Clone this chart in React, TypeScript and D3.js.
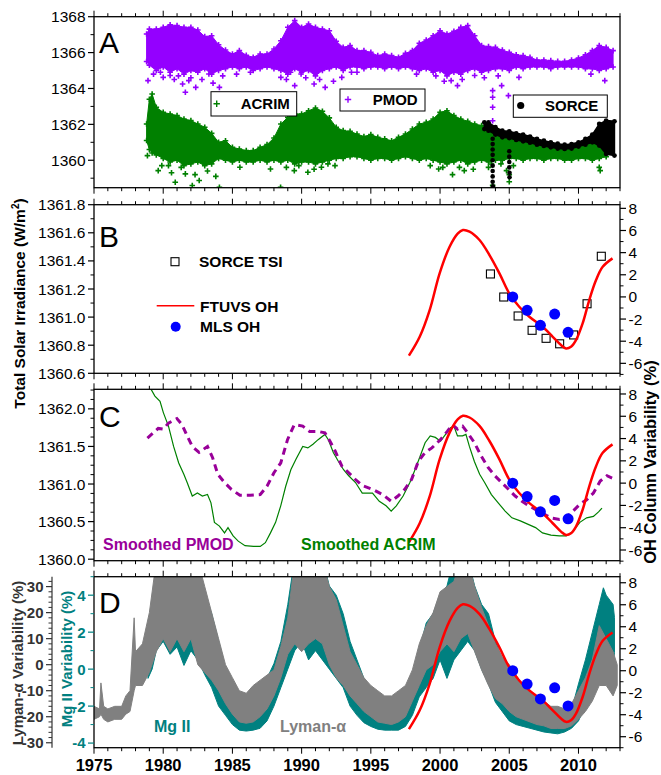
import React from 'react';
import * as d3 from 'd3';

// ---------- data ----------
// Panel A: daily TSI clouds, stored as [year, lower edge, upper edge]
const pmodBand = [
  [1978.8, 1365.5, 1367.04], [1979.0, 1365.3, 1367.31], [1979.5, 1365.0, 1367.31], [1980.0, 1365.2, 1367.41],
  [1980.5, 1364.9, 1367.55], [1981.0, 1365.1, 1367.5], [1981.5, 1364.8, 1367.41], [1982.0, 1365.0, 1367.41],
  [1982.5, 1364.9, 1367.26], [1983.0, 1365.1, 1366.89], [1983.5, 1364.8, 1366.94], [1984.0, 1365.0, 1366.44],
  [1984.5, 1365.1, 1366.14], [1985.0, 1365.2, 1365.92], [1985.5, 1365.1, 1366.11], [1986.0, 1365.2, 1365.85],
  [1986.5, 1365.0, 1365.74], [1987.0, 1365.1, 1365.92], [1987.5, 1365.2, 1365.92], [1988.0, 1365.1, 1366.2],
  [1988.5, 1365.0, 1366.66], [1989.0, 1364.8, 1367.41], [1989.5, 1365.1, 1367.78], [1990.0, 1364.9, 1367.41],
  [1990.5, 1365.0, 1367.59], [1991.0, 1364.7, 1367.41], [1991.5, 1365.0, 1367.31], [1992.0, 1365.1, 1367.22],
  [1992.5, 1365.2, 1366.63], [1993.0, 1365.0, 1366.29], [1993.5, 1365.2, 1366.39], [1994.0, 1365.2, 1366.11],
  [1994.5, 1365.1, 1366.11], [1995.0, 1365.2, 1366.01], [1995.5, 1365.2, 1365.83], [1996.0, 1365.1, 1365.92],
  [1996.5, 1365.2, 1365.83], [1997.0, 1365.1, 1365.74], [1997.5, 1365.2, 1365.96], [1998.0, 1365.1, 1366.11],
  [1998.5, 1365.0, 1366.52], [1999.0, 1365.1, 1366.7], [1999.5, 1364.9, 1366.94], [2000.0, 1365.0, 1367.22],
  [2000.5, 1364.7, 1367.04], [2001.0, 1364.9, 1367.18], [2001.5, 1364.8, 1367.41], [2002.0, 1365.0, 1367.5],
  [2002.5, 1365.1, 1366.94], [2003.0, 1364.9, 1366.39], [2003.5, 1365.0, 1366.33], [2004.0, 1365.1, 1366.29],
  [2004.5, 1365.1, 1366.14], [2005.0, 1365.0, 1366.01], [2005.5, 1365.2, 1365.88], [2006.0, 1365.1, 1365.83],
  [2006.5, 1365.2, 1365.74], [2007.0, 1365.2, 1365.59], [2007.5, 1365.2, 1365.59], [2008.0, 1365.1, 1365.55],
  [2008.5, 1365.2, 1365.51], [2009.0, 1365.2, 1365.51], [2009.5, 1365.2, 1365.59], [2010.0, 1365.2, 1365.7],
  [2010.5, 1365.1, 1365.88], [2011.0, 1365.1, 1366.11], [2011.5, 1365.0, 1366.39], [2012.0, 1365.1, 1366.29],
  [2012.5, 1365.2, 1366.11],
];
const pmodDips = [
  [1978.9, 1364.44], [1979.3, 1364.8], [1979.8, 1364.9], [1980.0, 1364.62], [1980.5, 1364.72], [1980.8, 1364.5],
  [1981.1, 1364.7], [1981.4, 1364.25], [1981.6, 1363.79], [1981.85, 1364.44], [1982.0, 1364.6], [1982.35, 1364.06],
  [1982.8, 1364.5], [1983.3, 1364.81], [1983.6, 1364.3], [1984.06, 1364.06], [1984.3, 1364.7], [1985.3, 1364.8],
  [1986.3, 1364.9], [1988.5, 1364.62], [1988.9, 1364.5], [1989.2, 1364.9], [1989.5, 1364.16], [1989.96, 1364.81],
  [1990.3, 1364.6], [1990.9, 1364.25], [1991.3, 1364.5], [1991.7, 1364.06], [1992.3, 1364.4], [1992.9, 1364.62],
  [1993.6, 1364.9], [1994.0, 1364.9], [1998.3, 1364.8], [1999.7, 1364.7], [2000.3, 1364.4], [2000.8, 1364.44],
  [2001.26, 1364.16], [2001.6, 1364.5], [2002.5, 1364.72], [2003.2, 1364.6], [2003.8, 1362.95], [2003.8, 1363.51],
  [2003.8, 1363.88], [2003.8, 1362.2], [2004.2, 1364.7], [2004.45, 1364.16], [2004.94, 1363.6], [2005.7, 1364.62],
  [2010.9, 1364.8], [2011.9, 1364.44],
];
const acrimBand = [
  [1978.8, 1361.1, 1362.02], [1979.0, 1360.6, 1363.4], [1979.2, 1360.4, 1363.69], [1979.5, 1360.3, 1362.95],
  [1980.0, 1360.1, 1362.67], [1980.5, 1359.9, 1362.58], [1981.0, 1360.0, 1362.49], [1981.5, 1359.7, 1362.3],
  [1982.0, 1359.8, 1362.21], [1982.5, 1359.9, 1362.02], [1983.0, 1359.7, 1361.84], [1983.5, 1359.8, 1361.5],
  [1984.0, 1360.1, 1361.0], [1984.5, 1360.0, 1361.09], [1985.0, 1359.9, 1360.72], [1985.5, 1360.0, 1360.63],
  [1986.0, 1359.9, 1360.54], [1986.5, 1359.9, 1360.54], [1987.0, 1360.0, 1360.72], [1987.5, 1359.9, 1360.87],
  [1988.0, 1360.0, 1361.24], [1988.5, 1359.9, 1362.02], [1989.0, 1360.0, 1362.39], [1989.5, 1359.8, 1362.58],
  [1990.0, 1359.9, 1362.58], [1990.5, 1359.9, 1362.76], [1991.0, 1359.8, 1362.91], [1991.5, 1359.9, 1362.73],
  [1992.0, 1360.0, 1362.36], [1992.5, 1360.1, 1361.84], [1993.0, 1360.1, 1361.65], [1993.5, 1360.2, 1361.61],
  [1994.0, 1360.2, 1361.46], [1994.5, 1360.1, 1361.32], [1995.0, 1360.0, 1361.43], [1995.5, 1360.1, 1361.28],
  [1996.0, 1360.1, 1361.19], [1996.5, 1360.0, 1361.09], [1997.0, 1360.1, 1361.28], [1997.5, 1360.2, 1361.46],
  [1998.0, 1360.1, 1361.74], [1998.5, 1360.0, 1362.02], [1999.0, 1360.1, 1362.11], [1999.5, 1360.0, 1362.3],
  [2000.0, 1359.9, 1362.67], [2000.5, 1359.8, 1362.76], [2001.0, 1359.9, 1362.49], [2001.5, 1360.0, 1362.3],
  [2002.0, 1359.8, 1362.17], [2002.5, 1359.9, 1362.02], [2003.0, 1360.0, 1361.93], [2003.5, 1359.9, 1361.84],
  [2004.0, 1360.0, 1361.61], [2004.5, 1360.0, 1361.46], [2005.0, 1360.1, 1361.28], [2005.5, 1360.1, 1361.13],
  [2006.0, 1360.0, 1361.06], [2006.5, 1360.1, 1360.95], [2007.0, 1360.1, 1360.87], [2007.5, 1360.0, 1360.82],
  [2008.0, 1360.1, 1360.76], [2008.5, 1360.1, 1360.72], [2009.0, 1360.0, 1360.72], [2009.5, 1360.0, 1360.72],
  [2010.0, 1360.1, 1360.76], [2010.5, 1360.1, 1360.87], [2011.0, 1360.0, 1361.0], [2011.5, 1360.1, 1361.09],
  [2012.0, 1360.2, 1360.87],
];
const acrimDips = [
  [1978.86, 1360.26], [1979.64, 1359.42], [1979.9, 1359.7], [1980.38, 1359.7], [1980.6, 1359.3], [1980.87, 1358.77],
  [1981.3, 1359.6], [1981.6, 1359.24], [1982.1, 1358.59], [1982.3, 1359.2], [1982.6, 1358.87], [1983.2, 1359.4],
  [1983.8, 1359.1], [1984.06, 1358.49], [1985.54, 1359.61], [1987.75, 1359.51], [1988.48, 1358.49], [1988.9, 1359.6],
  [1989.47, 1359.42], [1989.8, 1359.7], [1990.45, 1359.33], [1990.9, 1359.5], [1991.43, 1359.61], [1991.9, 1359.8],
  [1992.41, 1359.7], [1999.29, 1359.7], [1999.9, 1359.51], [2000.2, 1359.6], [2000.9, 1359.2], [2001.4, 1359.6],
  [2001.75, 1359.42], [2002.4, 1359.5], [2003.5, 1359.6], [2003.71, 1359.79], [2003.8, 1358.6], [2004.4, 1359.8],
  [2004.8, 1359.42], [2005.0, 1358.8], [2005.0, 1359.2], [2005.3, 1359.7], [2011.5, 1359.6], [2011.57, 1359.42],
];
const sorceBand = [
  [2003.2, 1361.74, 1362.11], [2003.5, 1361.65, 1362.11], [2004.0, 1361.43, 1361.84], [2004.5, 1361.28, 1361.65],
  [2005.0, 1361.24, 1361.61], [2005.5, 1361.13, 1361.5], [2006.0, 1361.06, 1361.43], [2006.5, 1360.98, 1361.32],
  [2007.0, 1360.87, 1361.19], [2007.5, 1360.8, 1361.09], [2008.0, 1360.72, 1361.0], [2008.5, 1360.65, 1360.92],
  [2009.0, 1360.63, 1360.87], [2009.5, 1360.65, 1360.9], [2010.0, 1360.76, 1361.0], [2010.5, 1360.87, 1361.19],
  [2011.0, 1361.0, 1361.43], [2011.5, 1360.82, 1362.02], [2012.0, 1360.35, 1362.21], [2012.6, 1360.26, 1362.17],
];
const sorceDips = [
  [2003.8, 1361.2], [2003.8, 1360.9], [2003.8, 1360.6], [2003.8, 1360.3], [2003.8, 1360.0], [2003.8, 1359.7],
  [2003.8, 1359.4], [2003.8, 1359.1], [2003.8, 1358.8], [2003.82, 1358.55], [2005.0, 1360.5], [2005.0, 1360.2],
  [2005.0, 1359.9], [2005.0, 1359.6], [2005.02, 1359.3], [2005.02, 1359.05],
];

// Panel B
const sorceTsi = [
  [2003.64, 1361.307], [2004.6, 1361.143], [2005.64, 1361.008], [2006.65, 1360.906], [2007.66, 1360.849],
  [2008.64, 1360.81], [2009.65, 1360.873], [2010.62, 1361.095], [2011.65, 1361.433],
];
const ftuvsOh = [
  [1997.75, -5.31], [1998.53, -3.6], [1999.25, -1.19], [1999.97, 2.13], [2000.69, 4.53], [2001.29, 5.74],
  [2001.65, 6.04], [2002.13, 5.89], [2002.85, 5.14], [2003.57, 3.78], [2004.29, 2.13], [2005.0, 0.32],
  [2005.72, -0.89], [2006.45, -1.79], [2007.41, -2.7], [2008.14, -3.6], [2008.74, -4.35], [2009.1, -4.65],
  [2009.46, -4.5], [2009.82, -3.9], [2010.3, -2.39], [2010.78, -0.28], [2011.27, 1.52], [2011.75, 2.72],
  [2012.46, 3.48],
];
const mlsOh = [[2005.25, 0.0], [2006.29, -1.21], [2007.25, -2.57], [2008.28, -1.55], [2009.25, -3.2]];

// Panel C
const smoothPmod = [
  [1978.86, 1361.61], [1979.28, 1361.68], [1979.64, 1361.74], [1980.01, 1361.73], [1980.38, 1361.81], [1980.99, 1361.87],
  [1981.36, 1361.79], [1981.73, 1361.64], [1982.1, 1361.5], [1982.59, 1361.42], [1983.2, 1361.5], [1983.57, 1361.35],
  [1983.94, 1361.13], [1984.43, 1361.02], [1984.92, 1360.93], [1985.54, 1360.85], [1986.28, 1360.85], [1987.01, 1360.86],
  [1987.5, 1360.97], [1988.0, 1361.15], [1988.49, 1361.28], [1988.98, 1361.59], [1989.47, 1361.79], [1990.08, 1361.77],
  [1990.57, 1361.7], [1991.19, 1361.7], [1991.68, 1361.68], [1992.05, 1361.57], [1992.42, 1361.44], [1992.9, 1361.24],
  [1993.4, 1361.15], [1993.89, 1361.06], [1994.38, 1360.98], [1995.12, 1360.93], [1995.85, 1360.86], [1996.47, 1360.77],
  [1996.96, 1360.84], [1997.45, 1360.93], [1997.94, 1361.06], [1998.43, 1361.3], [1998.92, 1361.42], [1999.41, 1361.48],
  [2000.03, 1361.59], [2000.52, 1361.7], [2000.89, 1361.79], [2001.26, 1361.73], [2001.63, 1361.77], [2002.0, 1361.68],
  [2002.48, 1361.55], [2002.98, 1361.37], [2003.47, 1361.22], [2003.96, 1361.11], [2004.45, 1361.02], [2004.94, 1360.93],
  [2005.43, 1360.84], [2005.92, 1360.77], [2006.42, 1360.71], [2006.91, 1360.66], [2007.4, 1360.61], [2008.01, 1360.55],
  [2008.63, 1360.53], [2009.12, 1360.55], [2009.61, 1360.64], [2010.1, 1360.73], [2010.59, 1360.79], [2011.08, 1360.88],
  [2011.57, 1361.04], [2012.06, 1361.11], [2012.43, 1361.08],
];
const smoothAcrim = [
  [1979.0, 1362.3], [1979.4, 1362.17], [1979.77, 1362.1], [1980.01, 1361.95], [1980.38, 1361.77], [1980.75, 1361.5],
  [1981.12, 1361.28], [1981.49, 1361.13], [1981.73, 1361.02], [1982.1, 1360.84], [1982.47, 1360.88], [1982.83, 1360.84],
  [1983.2, 1360.86], [1983.45, 1360.75], [1983.7, 1360.49], [1984.06, 1360.44], [1984.43, 1360.35], [1984.68, 1360.42],
  [1985.05, 1360.31], [1985.42, 1360.24], [1985.91, 1360.18], [1986.52, 1360.17], [1987.01, 1360.17], [1987.38, 1360.22],
  [1987.75, 1360.35], [1988.12, 1360.49], [1988.49, 1360.71], [1988.85, 1360.97], [1989.22, 1361.19], [1989.59, 1361.33],
  [1990.08, 1361.5], [1990.45, 1361.48], [1990.82, 1361.53], [1991.19, 1361.59], [1991.68, 1361.66], [1991.93, 1361.59],
  [1992.29, 1361.42], [1992.66, 1361.3], [1993.03, 1361.19], [1993.4, 1361.11], [1993.89, 1361.02], [1994.38, 1360.88],
  [1995.12, 1360.88], [1995.61, 1360.77], [1996.1, 1360.71], [1996.47, 1360.64], [1996.84, 1360.71], [1997.33, 1360.84],
  [1997.82, 1361.02], [1998.19, 1361.19], [1998.56, 1361.37], [1998.92, 1361.55], [1999.29, 1361.64], [1999.66, 1361.62],
  [2000.03, 1361.57], [2000.4, 1361.66], [2000.76, 1361.75], [2001.0, 1361.77], [2001.26, 1361.64], [2001.63, 1361.64],
  [2001.87, 1361.66], [2002.12, 1361.5], [2002.48, 1361.3], [2002.86, 1361.13], [2003.22, 1361.02], [2003.71, 1360.86],
  [2004.2, 1360.75], [2004.7, 1360.64], [2005.19, 1360.55], [2005.8, 1360.51], [2006.41, 1360.46], [2006.9, 1360.42],
  [2007.4, 1360.35], [2008.01, 1360.32], [2008.62, 1360.31], [2009.11, 1360.31], [2009.6, 1360.37], [2010.1, 1360.49],
  [2010.59, 1360.55], [2011.08, 1360.57], [2011.45, 1360.63], [2011.7, 1360.68],
];

// Panel D: noisy daily indices, [year, lower edge, upper edge]
const lymanBand = [
  [1975.0, -21, -16], [1975.4, -20, -17], [1975.5, -19, -7], [1975.7, -21, -16], [1976.0, -22, -17], [1976.5, -21, -16],
  [1977.0, -21, -16], [1977.3, -19, -12], [1977.6, -18, -10], [1977.9, -10, 18], [1978.0, -8, 5], [1978.5, -8, 8],
  [1979.0, -3, 20], [1979.5, 5, 40], [1980.0, 10, 40], [1980.5, 5, 40], [1981.0, 10, 40], [1981.5, 5, 40],
  [1982.0, 10, 40], [1982.5, 0, 40], [1983.0, -3, 30], [1983.5, -6, 20], [1984.0, -10, 10], [1984.5, -15, 0],
  [1985.0, -19, -5], [1985.5, -22, -10], [1986.0, -22.5, -11], [1986.5, -22, -8], [1987.0, -20, -6], [1987.5, -17, -4],
  [1988.0, -12, -2], [1988.5, -5, 7], [1989.0, 4, 18], [1989.5, 8, 40], [1990.0, 5, 40], [1990.5, 8, 40],
  [1991.0, 10, 40], [1991.5, 8, 40], [1992.0, 0, 30], [1992.5, -5, 25], [1993.0, -8, 15], [1993.5, -12, 5],
  [1994.0, -15, 0], [1994.5, -18, -5], [1995.0, -20, -8], [1995.5, -22, -10], [1996.0, -22.5, -12], [1996.5, -23, -12],
  [1997.0, -22, -10], [1997.5, -20, -8], [1998.0, -14, -2], [1998.5, -8, 8], [1999.0, -2, 15], [1999.5, 0, 20],
  [2000.0, 5, 28], [2000.5, 8, 30], [2001.0, 5, 32], [2001.5, 10, 40], [2002.0, 12, 40], [2002.5, 5, 30],
  [2003.0, -2, 22], [2003.5, -8, 15], [2004.0, -13, 8], [2004.5, -15, 3], [2005.0, -18, 0], [2005.5, -20, -4],
  [2006.0, -21, -8], [2006.5, -22, -10], [2007.0, -23, -12], [2007.5, -23.5, -14], [2008.0, -24.5, -16], [2008.5, -24.5, -16],
  [2009.0, -24.5, -17], [2009.5, -23.5, -15], [2010.0, -21, -10], [2010.5, -18, -5], [2011.0, -14, 2], [2011.5, -8, 15],
  [2012.0, -8, 10], [2012.5, -12, 5], [2012.8, -8, 0],
];
const mgBand = [
  [1978.9, -0.5, 1.5], [1979.2, 0, 3], [1979.5, 1, 6], [1980.0, 1.5, 6], [1980.5, 0.8, 6], [1981.0, 1.2, 6],
  [1981.5, 0.2, 6], [1982.0, 1.0, 6], [1982.5, 0.5, 4.8], [1983.0, -0.3, 4], [1983.5, -1, 3], [1984.0, -2, 1.5],
  [1984.5, -2.5, 0], [1985.0, -3, -1], [1985.5, -3.3, -1.5], [1986.0, -3.35, -1.8], [1986.5, -3.3, -1.5], [1987.0, -3.2, -1.2],
  [1987.5, -2.8, -0.5], [1988.0, -2, 0.3], [1988.5, -1, 1.5], [1989.0, 0, 3.5], [1989.5, 1.0, 6], [1990.0, 1.5, 6],
  [1990.5, 0.5, 6], [1991.0, 1, 6], [1991.5, 0.5, 6], [1992.0, 0, 4.5], [1992.5, -0.5, 4], [1993.0, -1, 3],
  [1993.5, -2, 1.5], [1994.0, -2.5, 0.5], [1994.5, -2.9, -0.5], [1995.0, -3.1, -1.2], [1995.5, -3.25, -1.8], [1996.0, -3.3, -2],
  [1996.5, -3.3, -2.2], [1997.0, -3.3, -2], [1997.5, -3.1, -1.5], [1998.0, -2.5, -0.5], [1998.5, -1.5, 1], [1999.0, -1, 2.5],
  [1999.5, -0.5, 3], [2000.0, 0.5, 4], [2000.5, -0.5, 4.5], [2001.0, 0.5, 6], [2001.5, 1, 6], [2002.0, 1.5, 6],
  [2002.5, 1, 4.5], [2003.0, 0, 3.5], [2003.5, -0.8, 3], [2004.0, -1.8, 1.5], [2004.5, -2.3, 0.5], [2005.0, -2.8, 0],
  [2005.5, -3, -0.5], [2006.0, -3.1, -1.2], [2006.5, -3.2, -1.5], [2007.0, -3.3, -1.8], [2007.5, -3.4, -2.2], [2008.0, -3.45, -2.5],
  [2008.5, -3.5, -2.7], [2009.0, -3.4, -2.7], [2009.5, -3.2, -2.2], [2010.0, -2.8, -0.8], [2010.5, -2, 0.5], [2011.0, -1, 2],
  [2011.5, 0, 3.5], [2011.8, 0.5, 4.4], [2012.0, 0.5, 4], [2012.5, 0, 3.5], [2012.6, 0.9, 2.8],
];

const yearLabels = [1975, 1980, 1985, 1990, 1995, 2000, 2005, 2010];
const ohTicks = [-6, -4, -2, 0, 2, 4, 6, 8];

// ---------- layout ----------
const FONT = "'Liberation Sans', Arial, Helvetica, sans-serif";
const X0 = 94, X1 = 620;
const PA = [16.7, 187.7], PB = [204.7, 373.3], PC = [389.3, 560.7], PD = [576.7, 747.7];
const PURPLE = '#9400ff', GREEN = '#008000', TEAL = '#008080', GRAY = '#808080', MAG = '#990099';

const x = d3.scaleLinear().domain([1975, 2013]).range([X0, X1]);
const yA = d3.scaleLinear().domain([1358.47, 1368]).range([PA[1], PA[0]]);
const yB = d3.scaleLinear().domain([1360.6, 1361.8]).range([PB[1], PB[0]]);
const yBr = d3.scaleLinear().domain([-6.9, 8.33]).range([PB[1], PB[0]]);
const yC = d3.scaleLinear().domain([1359.98, 1362.26]).range([PC[1], PC[0]]);
const yCr = d3.scaleLinear().domain([-6.96, 8.42]).range([PC[1], PC[0]]);
const yMg = d3.scaleLinear().domain([-4.25, 5]).range([PD[1], PD[0]]);
const yLy = d3.scaleLinear().domain([-31.9, 33.8]).range([PD[1], PD[0]]);
const yDr = d3.scaleLinear().domain([-7, 8.55]).range([PD[1], PD[0]]);

const band = (ys: any) => d3.area<any>().x(d => x(d[0])).y0(d => ys(d[1])).y1(d => ys(d[2]));
const line = (ys: any, curve: any = d3.curveLinear) => d3.line<any>().x(d => x(d[0])).y(d => ys(d[1])).curve(curve);

const plus = (pts: number[][], s = 2.8) =>
  pts.map(([px, py]) => `M${px - s},${py}h${2 * s}M${px},${py - s}v${2 * s}`).join('');
const edgePts = (data: number[][], ys: any) =>
  data.flatMap(d => [[x(d[0]), ys(d[1])], [x(d[0]), ys(d[2])]]);
const ptPts = (data: number[][], ys: any) => data.map(d => [x(d[0]), ys(d[1])]);

// vertical axis with ticks and labels
function VAxis({ scale, at, side, major, minor, fmt, color = '#000', bold = false, size = 15.5 }: any) {
  const dir = side === 'left' ? -1 : 1;
  return (
    <g>
      {minor.map((v: number) => (
        <line key={'m' + v} x1={at} x2={at + dir * 3.5} y1={scale(v)} y2={scale(v)} stroke={color} strokeWidth={1} />
      ))}
      {major.map((v: number) => (
        <g key={'M' + v}>
          <line x1={at} x2={at + dir * 6} y1={scale(v)} y2={scale(v)} stroke={color} strokeWidth={1.2} />
          <text x={at + dir * 8.5} y={scale(v)} dy="0.36em" textAnchor={side === 'left' ? 'end' : 'start'}
            fontSize={size} fontWeight={bold ? 'bold' : 'normal'} fill={color}>{fmt(v)}</text>
        </g>
      ))}
    </g>
  );
}

function Frame({ p, id }: any) {
  const yrs = d3.range(1975, 2014);
  return (
    <g>
      <clipPath id={id}><rect x={X0} y={p[0]} width={X1 - X0} height={p[1] - p[0]} /></clipPath>
      {yrs.map(yr => {
        const len = yr % 5 === 0 ? 6 : 3.5;
        return (
          <g key={yr}>
            <line x1={x(yr)} x2={x(yr)} y1={p[0]} y2={p[0] - len} stroke="#000" strokeWidth={1} />
            <line x1={x(yr)} x2={x(yr)} y1={p[1]} y2={p[1] + len} stroke="#000" strokeWidth={1} />
          </g>
        );
      })}
    </g>
  );
}

const Border = ({ p }: any) => (
  <rect x={X0} y={p[0]} width={X1 - X0} height={p[1] - p[0]} fill="none" stroke="#000" strokeWidth={1.3} />
);

const Letter = ({ t, y }: any) => <text x={99} y={y} fontSize={30} fill="#000">{t}</text>;

export default function App() {
  const redB = line(yBr, d3.curveCatmullRom)(ftuvsOh) as string;
  const redC = line(yCr, d3.curveCatmullRom)(ftuvsOh) as string;
  const redD = line(yDr, d3.curveCatmullRom)(ftuvsOh) as string;

  const rightAxis = (ys: any) => (
    <VAxis scale={ys} at={X1} side="right" major={ohTicks} minor={[-7, -5, -3, -1, 1, 3, 5, 7]} fmt={(v: number) => String(v)} />
  );

  return (
    <svg width={661} height={775} style={{ position: 'absolute', left: 0, top: 0, background: '#fff' }} fontFamily={FONT}>
      <rect width={661} height={775} fill="#fff" />

      {/* ---------- Panel A ---------- */}
      <Frame p={PA} id="clipA" />
      <g clipPath="url(#clipA)">
        <path d={band(yA)(pmodBand) as string} fill={PURPLE} stroke={PURPLE} strokeWidth={1} />
        <path d={plus(edgePts(pmodBand, yA))} stroke={PURPLE} strokeWidth={1.6} fill="none" />
        <path d={band(yA)(acrimBand) as string} fill={GREEN} stroke={GREEN} strokeWidth={1} />
        <path d={plus(edgePts(acrimBand, yA))} stroke={GREEN} strokeWidth={1.6} fill="none" />
        <path d={plus(ptPts(acrimDips, yA))} stroke={GREEN} strokeWidth={1.6} fill="none" />
        <path d={band(yA)(sorceBand) as string} fill="#000" stroke="#000" strokeWidth={1.5} />
        {edgePts(sorceBand, yA).map((p, i) => <circle key={'s' + i} cx={p[0]} cy={p[1]} r={2.4} fill="#000" />)}
        {ptPts(sorceDips, yA).map((p, i) => <circle key={'sd' + i} cx={p[0]} cy={p[1]} r={2.3} fill="#000" />)}
        <path d={plus(ptPts(pmodDips, yA))} stroke={PURPLE} strokeWidth={1.6} fill="none" />
      </g>
      <Border p={PA} />
      <VAxis scale={yA} at={X0} side="left" major={[1360, 1362, 1364, 1366, 1368]} minor={[1359, 1361, 1363, 1365, 1367]} fmt={(v: number) => String(v)} />
      <Letter t="A" y={52.7} />
      {/* legends */}
      <g fontWeight="bold" fontSize={15}>
        <rect x={211} y={91.7} width={85.7} height={24.3} fill="#fff" stroke="#000" strokeWidth={1} />
        <path d={plus([[216.7, 103.8]], 3.2)} stroke={GREEN} strokeWidth={1.4} />
        <text x={240.7} y={109.3}>ACRIM</text>
        <rect x={340} y={89} width={85} height={22} fill="#fff" stroke="#000" strokeWidth={1} />
        <path d={plus([[348, 99.5]], 3.2)} stroke={PURPLE} strokeWidth={1.4} />
        <text x={372.7} y={105.3}>PMOD</text>
        <rect x={513.3} y={95} width={94} height={22.3} fill="#fff" stroke="#000" strokeWidth={1} />
        <circle cx={520.7} cy={105.5} r={3.6} fill="#000" />
        <text x={545} y={111.3}>SORCE</text>
      </g>

      {/* ---------- Panel B ---------- */}
      <Frame p={PB} id="clipB" />
      <g clipPath="url(#clipB)">
        {sorceTsi.map((d, i) => (
          <rect key={'q' + i} x={x(d[0]) - 4} y={yB(d[1]) - 4} width={8} height={8} fill="#fff" stroke="#000" strokeWidth={1.1} />
        ))}
        <path d={redB} fill="none" stroke="#ff0000" strokeWidth={2.5} />
        {mlsOh.map((d, i) => <circle key={'b' + i} cx={x(d[0])} cy={yBr(d[1])} r={5.5} fill="#0000ff" />)}
      </g>
      <Border p={PB} />
      <VAxis scale={yB} at={X0} side="left" major={[1360.6, 1360.8, 1361.0, 1361.2, 1361.4, 1361.6, 1361.8]}
        minor={[1360.7, 1360.9, 1361.1, 1361.3, 1361.5, 1361.7]} fmt={(v: number) => v.toFixed(1)} />
      {rightAxis(yBr)}
      <Letter t="B" y={246.7} />
      <g fontWeight="bold" fontSize={15.5}>
        <rect x={171} y={257.7} width={8} height={8} fill="#fff" stroke="#000" strokeWidth={1.1} />
        <text x={199} y={267.3}>SORCE TSI</text>
        <line x1={156.7} x2={194.3} y1={305.7} y2={305.7} stroke="#ff0000" strokeWidth={1.5} />
        <text x={200} y={311.5}>FTUVS OH</text>
        <circle cx={175.7} cy={326.7} r={5} fill="#0000ff" />
        <text x={200} y={332}>MLS OH</text>
      </g>

      {/* ---------- Panel C ---------- */}
      <Frame p={PC} id="clipC" />
      <g clipPath="url(#clipC)">
        <path d={line(yC)(smoothAcrim) as string} fill="none" stroke={GREEN} strokeWidth={1.2} />
        <path d={line(yC)(smoothPmod) as string} fill="none" stroke={MAG} strokeWidth={3} strokeDasharray="7,5" />
        <path d={redC} fill="none" stroke="#ff0000" strokeWidth={2.5} />
        {mlsOh.map((d, i) => <circle key={'c' + i} cx={x(d[0])} cy={yCr(d[1])} r={5.5} fill="#0000ff" />)}
      </g>
      <Border p={PC} />
      <VAxis scale={yC} at={X0} side="left" major={[1360.0, 1360.5, 1361.0, 1361.5, 1362.0]}
        minor={[1360.125, 1360.25, 1360.375, 1360.625, 1360.75, 1360.875, 1361.125, 1361.25, 1361.375, 1361.625, 1361.75, 1361.875, 1362.125, 1362.25]}
        fmt={(v: number) => v.toFixed(1)} />
      {rightAxis(yCr)}
      <Letter t="C" y={426.7} />
      <g fontWeight="bold" fontSize={16}>
        <text x={103} y={550} fill={MAG}>Smoothed PMOD</text>
        <text x={301} y={550} fill={GREEN}>Smoothed ACRIM</text>
      </g>

      {/* ---------- Panel D ---------- */}
      <Frame p={PD} id="clipD" />
      <g clipPath="url(#clipD)">
        <path d={band(yMg)(mgBand) as string} fill={TEAL} stroke={TEAL} strokeWidth={1} />
        <path d={band(yLy)(lymanBand) as string} fill={GRAY} stroke={GRAY} strokeWidth={1} />
        <path d={redD} fill="none" stroke="#ff0000" strokeWidth={2.5} />
        {mlsOh.map((d, i) => <circle key={'d' + i} cx={x(d[0])} cy={yDr(d[1])} r={5.5} fill="#0000ff" />)}
      </g>
      <Border p={PD} />
      <VAxis scale={yMg} at={X0} side="left" major={[-4, -2, 0, 2, 4]} minor={[-3, -1, 1, 3, 5]}
        fmt={(v: number) => String(v)} color={TEAL} bold size={15} />
      <line x1={52} x2={52} y1={PD[0]} y2={PD[1]} stroke="#333" strokeWidth={1.2} />
      <VAxis scale={yLy} at={52} side="left" major={[-30, -20, -10, 0, 10, 20, 30]}
        minor={[-28, -26, -24, -22, -18, -16, -14, -12, -8, -6, -4, -2, 2, 4, 6, 8, 12, 14, 16, 18, 22, 24, 26, 28, 32]}
        fmt={(v: number) => String(v)} color="#333" bold size={15} />
      {rightAxis(yDr)}
      <Letter t="D" y={613.3} />
      <g fontWeight="bold" fontSize={16}>
        <text x={154} y={731.7} fill={TEAL}>Mg II</text>
        <text x={280} y={731.7} fill={GRAY}>Lyman-α</text>
      </g>

      {/* x labels */}
      <g fontWeight="bold" fontSize={16.5} textAnchor="middle">
        {yearLabels.map(yr => <text key={yr} x={x(yr)} y={771}>{yr}</text>)}
      </g>

      {/* axis titles */}
      <text transform="translate(25,303.5) rotate(-90)" textAnchor="middle" fontWeight="bold" fontSize={15.5}>
        Total Solar Irradiance (W/m<tspan dy="-6" fontSize={10}>2</tspan><tspan dy="6">)</tspan>
      </text>
      <text transform="translate(656,462) rotate(-90)" textAnchor="middle" fontWeight="bold" fontSize={16.5}>
        OH Column Variability (%)
      </text>
      <text transform="translate(23,663) rotate(-90)" textAnchor="middle" fontWeight="bold" fontSize={15} fill="#333">
        Lyman-α Variability (%)
      </text>
      <text transform="translate(72,659) rotate(-90)" textAnchor="middle" fontWeight="bold" fontSize={15} fill={TEAL}>
        Mg II Variability (%)
      </text>
    </svg>
  );
}
